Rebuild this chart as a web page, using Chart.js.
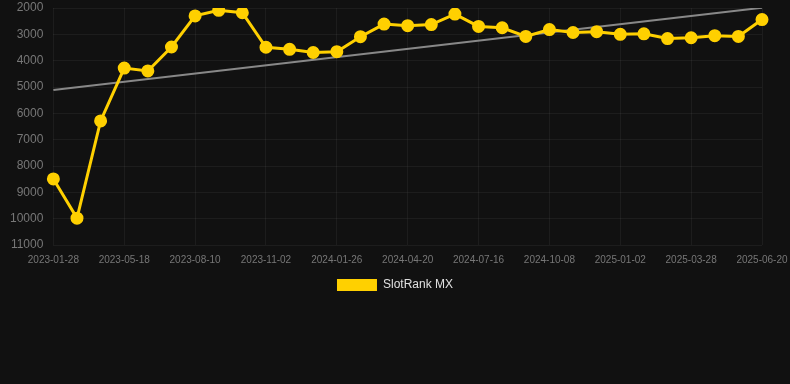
<!DOCTYPE html>
<html>
<head>
<meta charset="utf-8">
<script src="https://cdn.jsdelivr.net/npm/chart.js@4"></script>
<style>
  html, body { margin: 0; padding: 0; background: #111111; }
  #wrap { width: 790px; height: 384px; position: relative; }
</style>
</head>
<body>
<div id="wrap"><canvas id="rankChart"></canvas></div>
<script>
const dates = [
  '2023-01-28', '2023-03-01', '2023-04-15', '2023-05-18', '2023-06-15', '2023-07-13',
  '2023-08-10', '2023-09-07', '2023-10-05', '2023-11-02', '2023-11-30', '2023-12-29',
  '2024-01-26', '2024-02-23', '2024-03-22', '2024-04-20', '2024-05-18', '2024-06-17',
  '2024-07-16', '2024-08-13', '2024-09-10', '2024-10-08', '2024-11-05', '2024-12-04',
  '2025-01-02', '2025-01-30', '2025-02-28', '2025-03-28', '2025-04-25', '2025-05-23',
  '2025-06-20'
];
const rankValues = [
  8490, 9980, 6290, 4280, 4390, 3480, 2300, 2090, 2180, 3490, 3570, 3690,
  3660, 3090, 2610, 2670, 2630, 2230, 2700, 2750, 3080, 2820, 2930, 2900,
  3000, 2980, 3160, 3130, 3050, 3080, 2440
];
// trend line: only first and last value, gap in between
const trendValues = [5110, null, null, null, null, null, null, null, null, null, null, null,
  null, null, null, null, null, null, null, null, null, null, null, null,
  null, null, null, null, null, null, 1990];

const ctx = document.getElementById('rankChart').getContext('2d');

new Chart(ctx, {
  type: 'line',
  data: {
    labels: dates,
    datasets: [
      {
        label: 'SlotRank MX',
        data: rankValues,
        borderColor: '#ffd000',
        backgroundColor: '#ffd000',
        borderWidth: 3,
        pointRadius: 5,
        pointHoverRadius: 5,
        tension: 0,
        fill: false
      },
      {
        label: 'trend',
        data: trendValues,
        borderColor: '#888888',
        borderWidth: 2,
        pointRadius: 0,
        spanGaps: true,
        fill: false
      }
    ]
  },
  options: {
    responsive: true,
    maintainAspectRatio: false,
    animation: false,
    layout: {
      padding: { top: 2, right: 0, bottom: 83, left: 0 }
    },
    scales: {
      x: {
        grid: { color: 'rgba(255,255,255,0.05)', drawTicks: false },
        border: { display: false },
        afterFit: scale => { scale.paddingRight = 28; },
        ticks: {
          color: '#777777',
          font: { size: 10, family: 'Liberation Sans, Arial, sans-serif' },
          maxRotation: 0,
          autoSkip: false,
          padding: 9,
          callback: function (val, i) {
            return i % 3 === 0 ? this.getLabelForValue(val) : null;
          }
        }
      },
      y: {
        reverse: true,
        min: 2000,
        max: 11000,
        grid: { color: 'rgba(255,255,255,0.05)', drawTicks: false },
        border: { display: false },
        afterFit: scale => { scale.paddingTop = 0; },
        ticks: {
          stepSize: 1000,
          color: '#777777',
          padding: 10,
          font: { size: 12, family: 'Liberation Sans, Arial, sans-serif' },
          callback: v => String(v)
        }
      }
    },
    plugins: {
      legend: {
        display: true,
        position: 'bottom',
        labels: {
          color: '#e0e0e0',
          boxWidth: 40,
          boxHeight: 12,
          padding: 4,
          font: { size: 12, family: 'Liberation Sans, Arial, sans-serif' },
          generateLabels: chart => Chart.defaults.plugins.legend.labels.generateLabels(chart)
            .filter(item => item.text !== 'trend')
            .map(item => Object.assign(item, { lineWidth: 0 }))
        }
      },
      tooltip: { enabled: false }
    }
  }
});
</script>
</body>
</html>
